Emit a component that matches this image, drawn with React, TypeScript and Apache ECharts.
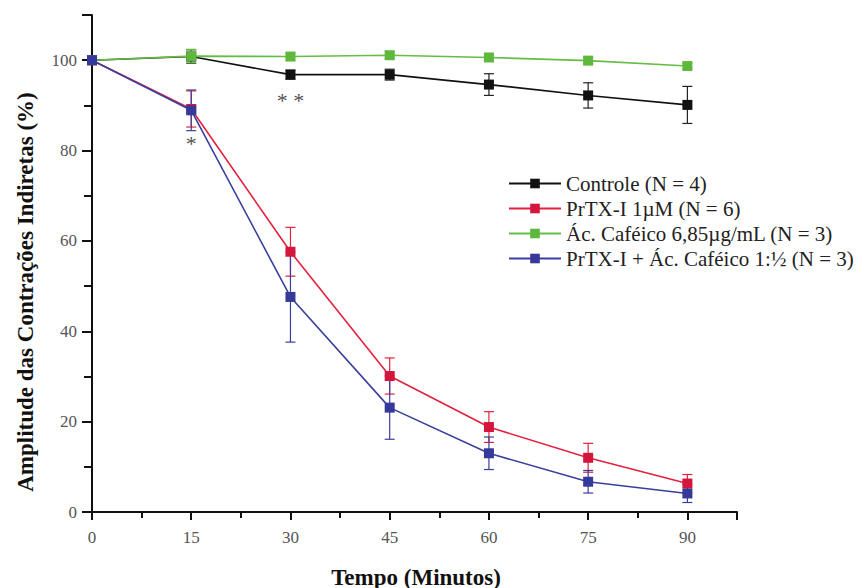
import React, { useEffect, useRef } from "react";
import * as echarts from "echarts";

const times = [0, 15, 30, 45, 60, 75, 90];
const controle = [100, 100.8, 96.8, 96.8, 94.6, 92.2, 90.1];
const controleErr = [0, 1.5, 1.0, 1.2, 2.4, 2.8, 4.1];
const prtx = [100, 89.2, 57.6, 30.1, 18.8, 12.0, 6.3];
const prtxErr = [0, 4.0, 5.4, 4.0, 3.4, 3.2, 2.0];
const cafeico = [100, 100.9, 100.8, 101.1, 100.6, 99.9, 98.7];
const cafeicoErr = [0, 1.5, 0.8, 0.8, 0.8, 0.7, 0.6];
const combo = [100, 88.9, 47.6, 23.1, 13.0, 6.7, 4.1];
const comboErr = [0, 4.5, 10.0, 7.0, 3.6, 2.5, 2.0];

const seriesNames = [
  "Controle (N = 4)",
  "PrTX-I 1µM (N = 6)",
  "Ác. Caféico 6,85µg/mL (N = 3)",
  "PrTX-I + Ác. Caféico 1:½ (N = 3)",
];
const colors = ["#111111", "#e3213f", "#66bd45", "#3a3f9c"];
const markerColors = ["#111111", "#d4153c", "#5db83c", "#34399a"];

const annotations = [
  { x: 15, y: 81.5, text: "*" },
  { x: 30, y: 91.0, text: "* *" },
];

const xTicks = [0, 15, 30, 45, 60, 75, 90];
const yTicks = [0, 20, 40, 60, 80, 100];

const FONT = "'Liberation Serif', 'Times New Roman', serif";

export default function App() {
  const ref = useRef<HTMLDivElement>(null);
  useEffect(() => {
    if (!ref.current) return;
    const chart = echarts.init(ref.current, undefined, { renderer: "svg" });
    const vals = [controle, prtx, cafeico, combo];
    const errs = [controleErr, prtxErr, cafeicoErr, comboErr];

    const errorSeries = vals.map((v, k) => ({
      type: "custom",
      name: "err" + k,
      z: 2,
      silent: true,
      data: times.map((t, i) => [t, v[i], errs[k][i]]),
      encode: { x: 0, y: 1 },
      renderItem: (params: any, api: any) => {
        const x = api.value(0);
        const y = api.value(1);
        const e = api.value(2);
        if (!e) return { type: "group", children: [] };
        const top = api.coord([x, y + e]);
        const bot = api.coord([x, y - e]);
        const w = 5;
        const style = { stroke: colors[k] === "#111111" ? "#222" : colors[k], lineWidth: 1.2 };
        return {
          type: "group",
          children: [
            { type: "line", shape: { x1: top[0], y1: top[1], x2: bot[0], y2: bot[1] }, style },
            { type: "line", shape: { x1: top[0] - w, y1: top[1], x2: top[0] + w, y2: top[1] }, style },
            { type: "line", shape: { x1: bot[0] - w, y1: bot[1], x2: bot[0] + w, y2: bot[1] }, style },
          ],
        };
      },
    }));

    const lineSeries = vals.map((v, k) => ({
      type: "line",
      name: seriesNames[k],
      z: 3 + k,
      data: times.map((t, i) => [t, v[i]]),
      symbol: "rect",
      symbolSize: 10,
      showAllSymbol: true,
      lineStyle: { color: colors[k], width: 1.6 },
      itemStyle: { color: markerColors[k], borderWidth: 0 },
    }));

    chart.setOption({
      animation: false,
      backgroundColor: "#ffffff",
      grid: { left: 92, right: 127, top: 15, bottom: 76 },
      legend: {
        data: seriesNames,
        orient: "vertical",
        left: 503,
        top: 168,
        itemWidth: 52,
        itemHeight: 12,
        itemGap: 4,
        textStyle: { fontFamily: FONT, fontSize: 21, color: "#222" },
      },
      xAxis: {
        type: "value",
        min: 0,
        max: 97.5,
        interval: 15,
        axisLine: { lineStyle: { color: "#111", width: 2 } },
        axisTick: { show: true, inside: false, length: 8, lineStyle: { color: "#111", width: 2 } },
        minorTick: { show: true, splitNumber: 2, length: 6, lineStyle: { color: "#111", width: 2 } },
        splitLine: { show: false },
        axisLabel: {
          fontFamily: FONT,
          fontSize: 17,
          color: "#555",
          margin: 17,
          showMaxLabel: false,
          formatter: (val: number) => (xTicks.indexOf(val) >= 0 ? String(val) : ""),
        },
      },
      yAxis: {
        type: "value",
        min: 0,
        max: 110,
        interval: 20,
        axisLine: { show: true, lineStyle: { color: "#111", width: 2 } },
        axisTick: { show: true, length: 10, lineStyle: { color: "#111", width: 2 } },
        minorTick: { show: true, splitNumber: 2, length: 8, lineStyle: { color: "#111", width: 2 } },
        splitLine: { show: false },
        axisLabel: {
          fontFamily: FONT,
          fontSize: 17,
          color: "#555",
          margin: 15,
          showMaxLabel: false,
          formatter: (val: number) => (yTicks.indexOf(val) >= 0 ? String(val) : ""),
        },
      },
      graphic: [
        {
          type: "text",
          x: 416,
          y: 577,
          style: {
            text: "Tempo (Minutos)",
            fontFamily: FONT,
            fontWeight: "bold",
            fontSize: 23,
            fill: "#111",
            align: "center",
            verticalAlign: "middle",
          },
        },
        {
          type: "text",
          x: 25,
          y: 292,
          rotation: Math.PI / 2,
          style: {
            text: "Amplitude das Contrações Indiretas (%)",
            fontFamily: FONT,
            fontWeight: "bold",
            fontSize: 23,
            fill: "#111",
            align: "center",
            verticalAlign: "middle",
          },
        },
      ],
      series: [
        ...errorSeries,
        ...lineSeries,
        {
          type: "scatter",
          name: "annot",
          silent: true,
          symbolSize: 0,
          z: 10,
          data: annotations.map((a) => [a.x, a.y, a.text]),
          label: {
            show: true,
            position: "inside",
            formatter: (p: any) => p.value[2],
            fontFamily: FONT,
            fontSize: 22,
            color: "#222",
          },
        },
      ],
    } as any);
    return () => chart.dispose();
  }, []);
  return (
    <div
      ref={ref}
      style={{ position: "fixed", left: 0, top: 0, width: 864, height: 588 }}
    />
  );
}
